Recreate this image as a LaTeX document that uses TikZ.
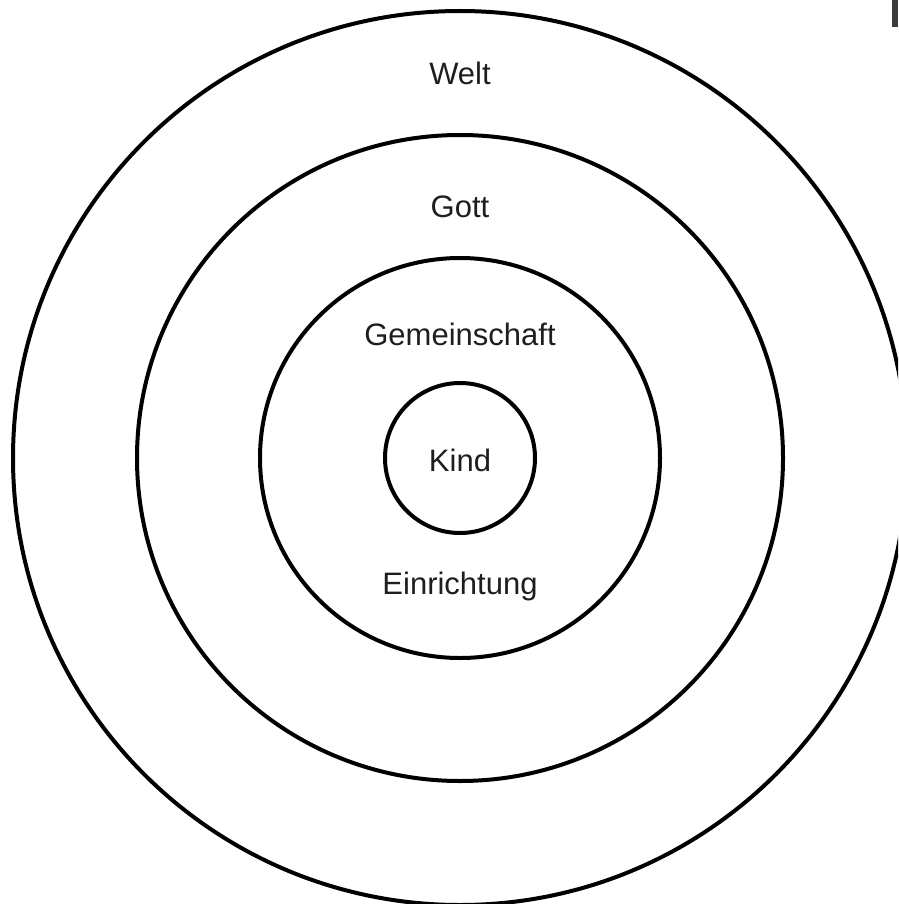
\documentclass[tikz,border=0pt]{standalone}
\usepackage{fontspec}
\setmainfont{Liberation Sans}
\definecolor{txt}{HTML}{1E1E1E}
\definecolor{bar}{HTML}{3C3C3C}
\begin{document}
\begin{tikzpicture}[x=1pt,y=1pt,
  ring/.style={draw=black,line width=4pt},
  lbl/.style={font=\fontsize{31}{36}\selectfont,text=txt,anchor=base,inner sep=0pt}]
\useasboundingbox (0,0) rectangle (898,-904);
\clip (0,0) rectangle (898,-904);
\fill[white] (0,0) rectangle (898,-904);
\coordinate (c) at (460,-458);
\draw[ring] (c) circle[radius=447];
\draw[ring] (c) circle[radius=323];
\draw[ring] (c) circle[radius=200];
\draw[ring] (c) circle[radius=75];
\node[lbl] (welt) at (460,-85) {Welt};
\node[lbl] (gott) at (460,-217) {Gott};
\node[lbl] (gem) at (460,-345) {Gemeinschaft};
\node[lbl] (kind) at (460,-471) {Kind};
\node[lbl] (ein) at (460,-594) {Einrichtung};
\fill[bar] (892,0) rectangle (898,-27);
\end{tikzpicture}
\end{document}
